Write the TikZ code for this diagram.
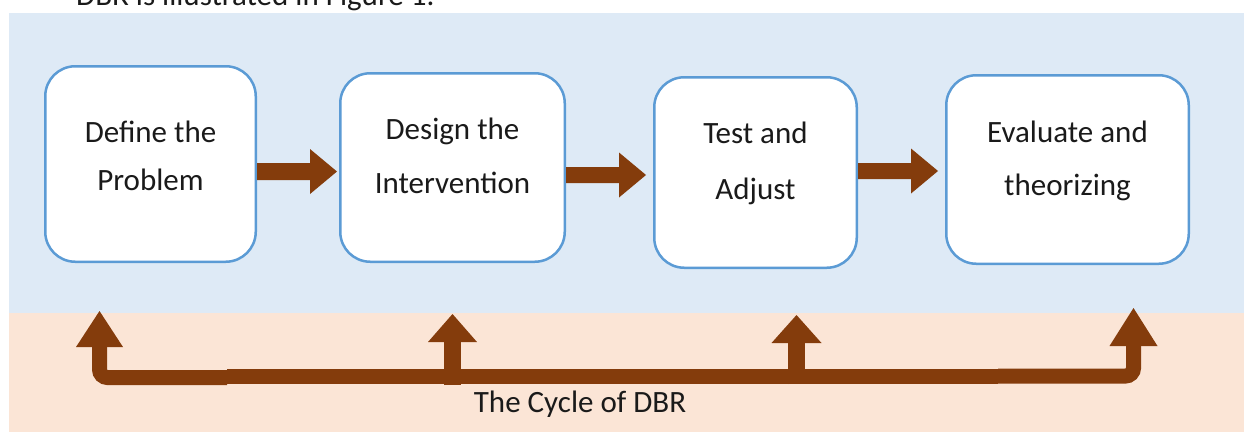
\documentclass[tikz,border=0pt]{standalone}
\usepackage{fontspec}
\setmainfont{Carlito}
\usetikzlibrary{calc}

\definecolor{panelblue}{HTML}{DEEAF6}
\definecolor{panelpeach}{HTML}{FBE5D6}
\definecolor{arrowbrown}{HTML}{843C0C}
\definecolor{boxline}{HTML}{5B9BD5}
\definecolor{inktext}{HTML}{1A1A1A}

% right-pointing block arrow: tail point, tip point, shaft half-height, head half-height, head length
\newcommand\rightblock[5]{%
  \fill[arrowbrown] let \p1=(#1), \p2=(#2) in
    (\x1,\y1+#3) -- (\x2-#5,\y1+#3) -- (\x2-#5,\y1+#4) -- (\x2,\y1)
    -- (\x2-#5,\y1-#4) -- (\x2-#5,\y1-#3) -- (\x1,\y1-#3) -- cycle;}
% upward triangular head sitting on a base point: base, half-width, length
\newcommand\upwardhead[3]{%
  \fill[arrowbrown] let \p1=(#1) in
    (\x1-#2,\y1) -- (\x1+#2,\y1) -- (\x1,\y1+#3) -- cycle;}

\begin{document}
\begin{tikzpicture}[x=1pt,y=-1pt,
  stagebox/.style={draw=boxline, line width=2.5pt, fill=white,
    rounded corners=30pt, inner sep=0pt},
  lbl/.style={anchor=base, inner sep=0pt, text=inktext,
    font=\fontsize{31}{37}\selectfont},
  flowline/.style={draw=arrowbrown, line width=15pt},
  riser/.style={draw=arrowbrown, line width=17pt}]

\useasboundingbox (0,0) rectangle (1244,432);
\fill[white] (0,0) rectangle (1244,432);

% running text of the page above the figure
\node[lbl, anchor=base west] (pagetext) at (76,5) {DBR is illustrated in Figure 1.};

% two bands of the figure
\fill[panelblue]  (9,13)  rectangle (1244,313);
\fill[panelpeach] (9,313) rectangle (1244,432);

% the four stages
\node[stagebox, minimum width=210.5pt, minimum height=195.5pt] (b1) at (150.5,164) {};
\node[stagebox, minimum width=224.5pt, minimum height=188.5pt] (b2) at (452.5,167.5) {};
\node[stagebox, minimum width=202.5pt, minimum height=190.5pt] (b3) at (755.5,172.5) {};
\node[stagebox, minimum width=242.5pt, minimum height=188.5pt] (b4) at (1067.5,169.5) {};

\node[lbl] (t1a) at (150.5,142) {Define the};
\node[lbl] (t1b) at (150.5,190) {Problem};
\node[lbl] (t2a) at (452.5,139) {Design the};
\node[lbl] (t2b) at (452.5,193) {Intervention};
\node[lbl] (t3a) at (755.5,143) {Test and};
\node[lbl] (t3b) at (755.5,199) {Adjust};
\node[lbl] (t4a) at (1067.5,142) {Evaluate and};
\node[lbl] (t4b) at (1067.5,195) {theorizing};

% forward arrows between stages
\coordinate (tip12) at (337,171.5);
\coordinate (tip23) at (646,175);
\coordinate (tip34) at (938,171);
\rightblock{b1.east |- tip12}{tip12}{8.5pt}{22.5pt}{27pt}
\rightblock{b2.east |- tip23}{tip23}{8pt}{22.5pt}{27pt}
\rightblock{b3.east |- tip34}{tip34}{8pt}{22.5pt}{27pt}

% feedback loop along the bottom band
\coordinate (loopL)   at (227,377.5);
\coordinate (cornerL) at (99.5,377.5);
\coordinate (headL)   at (99.5,347);
\coordinate (busL)    at (227,376.5);
\coordinate (busR)    at (998,376.5);
\coordinate (loopR)   at (998,376);
\coordinate (cornerR) at (1133.5,376);
\coordinate (headR)   at (1133.5,346);
\coordinate (footM2)  at (452.5,385);
\coordinate (headM2)  at (452.5,342);
\coordinate (footM3)  at (796.5,384);
\coordinate (headM3)  at (796.5,343);

\draw[flowline, rounded corners=8pt] (loopL) -- (cornerL) -- (headL);
\draw[flowline] (busL) -- (busR);
\draw[flowline, rounded corners=8pt] (loopR) -- (cornerR) -- (headR);
\draw[riser] (footM2) -- (headM2);
\draw[riser] (footM3) -- (headM3);

\upwardhead{headL}{23.5pt}{36pt}
\upwardhead{headM2}{24.5pt}{28pt}
\upwardhead{headM3}{25pt}{28pt}
\upwardhead{headR}{24pt}{38pt}

\node[lbl] (cap) at (580,412) {The Cycle of DBR};
\end{tikzpicture}
\end{document}
